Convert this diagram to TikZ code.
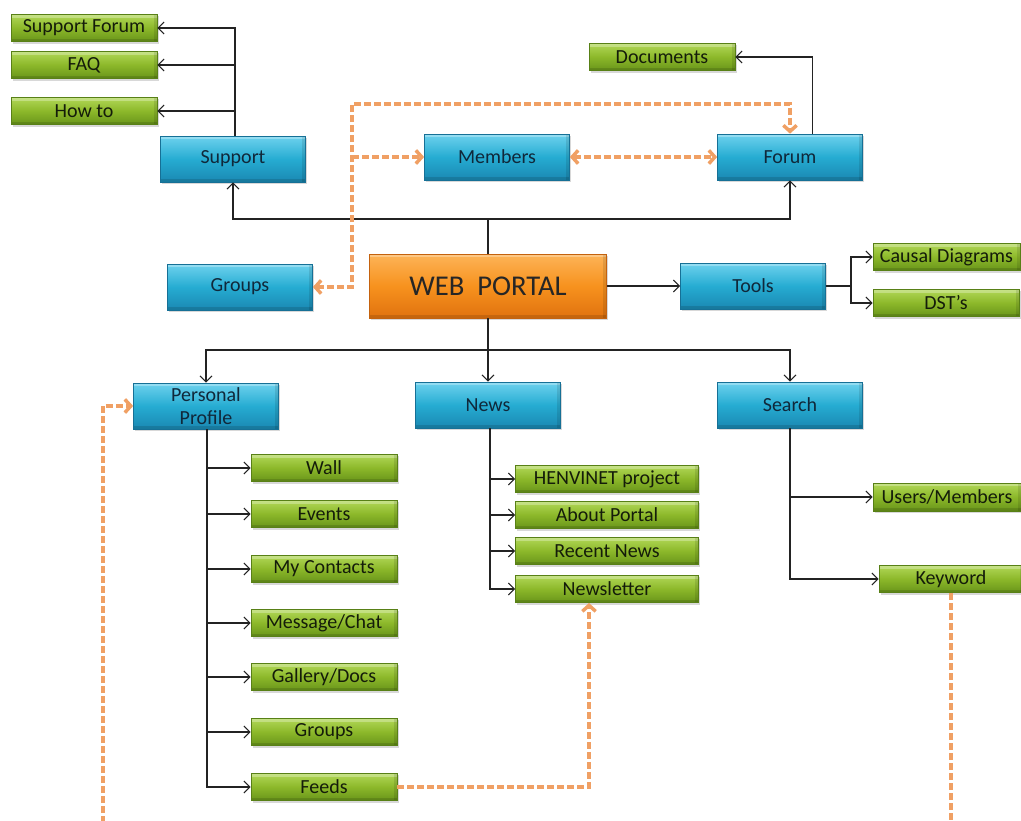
\documentclass[tikz,border=0pt]{standalone}
\usepackage{fontspec}
\setmainfont{Carlito}
\usetikzlibrary{arrows.meta,shadows,calc}
\definecolor{bluetop}{RGB}{110,210,238}
\definecolor{bluemid}{RGB}{38,172,210}
\definecolor{bluebot}{RGB}{26,136,178}
\definecolor{blueedge}{RGB}{22,112,150}
\definecolor{bluetext}{RGB}{16,40,58}
\definecolor{greentop}{RGB}{178,216,88}
\definecolor{greenmid}{RGB}{140,184,42}
\definecolor{greenbot}{RGB}{104,148,26}
\definecolor{greenedge}{RGB}{88,128,22}
\definecolor{greentext}{RGB}{20,28,10}
\definecolor{orangetop}{RGB}{253,180,88}
\definecolor{orangemid}{RGB}{247,146,30}
\definecolor{orangebot}{RGB}{224,114,14}
\definecolor{orangeedge}{RGB}{196,98,14}
\definecolor{linecol}{RGB}{35,35,35}
\definecolor{dorange}{RGB}{240,160,100}
\tikzset{
  basebox/.style={rectangle, inner sep=0pt, align=center,
    font=\fontsize{15}{17.5}\selectfont, line width=0.5pt,
    drop shadow={shadow xshift=1.2pt, shadow yshift=-1.5pt, opacity=0.3},
    path picture={
      \fill[white, opacity=0.28] (path picture bounding box.north west)
        rectangle ([yshift=-2.5pt]path picture bounding box.north east);
      \fill[black, opacity=0.12] (path picture bounding box.south west)
        rectangle ([yshift=2pt]path picture bounding box.south east);
      \fill[black, opacity=0.10] (path picture bounding box.north east)
        rectangle ([xshift=-2.5pt]path picture bounding box.south east);
    }},
  bluebox/.style={basebox, minimum width=108.75pt, minimum height=34.5pt,
    top color=bluetop, bottom color=bluebot, middle color=bluemid,
    draw=blueedge, text=bluetext},
  greenbox/.style={basebox, minimum width=109.5pt, minimum height=20.5pt,
    top color=greentop, bottom color=greenbot, middle color=greenmid,
    draw=greenedge, text=greentext},
  orangebox/.style={basebox, minimum width=177.75pt, minimum height=48pt,
    top color=orangetop, bottom color=orangebot, middle color=orangemid,
    draw=orangeedge, text=black!85, font=\fontsize{21.5}{24}\selectfont},
  plain/.style={draw=linecol, line width=0.8pt},
  conn/.style={plain, -{Straight Barb[length=4.5pt,width=9pt]}},
  odash/.style={draw=dorange, line width=2.6pt, dash pattern=on 5pt off 2.5pt, line join=miter},
  otip/.style={-{Straight Barb[length=4.5pt,width=10pt]}},
  otips/.style={{Straight Barb[length=4.5pt,width=10pt]}-{Straight Barb[length=4.5pt,width=10pt]}}
}
\begin{document}
\begin{tikzpicture}[x=0.75pt,y=-0.75pt]
\useasboundingbox (0,0) rectangle (1021,821);
\fill[white] (0,0) rectangle (1021,821);
\clip (0,0) rectangle (1021,821);

% nodes
\node[greenbox] (sf) at (84,28) {Support Forum};
\node[greenbox] (faq) at (84,65) {FAQ};
\node[greenbox] (howto) at (84,111) {How to};
\node[bluebox] (sup) at (233,159) {Support};
\node[greenbox] (doc) at (662,57) {Documents};
\node[bluebox] (mem) at (497,157) {Members};
\node[bluebox] (forum) at (790,157) {Forum};
\node[bluebox] (grp) at (240,287) {Groups};
\node[orangebox] (wp) at (488,286) {WEB\ \ PORTAL};
\node[bluebox] (tools) at (753,286) {Tools};
\node[greenbox, minimum width=110.25pt] (causal) at (946.5,257) {Causal Diagrams};
\node[greenbox] (dst) at (946,303) {DST’s};
\node[bluebox] (pp) at (206,406) {Personal\\Profile};
\node[bluebox] (news) at (488,405) {News};
\node[bluebox] (search) at (790,405) {Search};
\node[greenbox] (wall) at (324,468) {Wall};
\node[greenbox] (events) at (324,514) {Events};
\node[greenbox] (contacts) at (324,569) {My Contacts};
\node[greenbox] (msg) at (324,623) {Message/Chat};
\node[greenbox] (gallery) at (324,677) {Gallery/Docs};
\node[greenbox] (groups2) at (324,732) {Groups};
\node[greenbox] (feeds) at (324,787) {Feeds};
\node[greenbox, minimum width=137.25pt] (henv) at (607,479) {HENVINET project};
\node[greenbox, minimum width=137.25pt] (about) at (607,515) {About Portal};
\node[greenbox, minimum width=137.25pt] (recent) at (607,551) {Recent News};
\node[greenbox, minimum width=137.25pt] (newsl) at (607,589) {Newsletter};
\node[greenbox, minimum width=111pt, minimum height=21pt] (users) at (947,497) {Users/Members};
\node[greenbox, minimum width=108pt] (kw) at (951,579) {Keyword};

% junction coordinates
\coordinate (j1) at (488,219);
\coordinate (j2) at (851,286);
\coordinate (j3) at (488,350);
\coordinate (d1) at (352,104);
\coordinate (e1) at (951,834);
\coordinate (e2) at (103,834);

% black connectors
\draw[conn] ([xshift=1.5pt]sup.north) |- (sf.east);
\draw[conn] ([xshift=1.5pt]sup.north) |- (faq.east);
\draw[conn] ([xshift=1.5pt]sup.north) |- (howto.east);
\draw[plain] (wp.north) -- (j1);
\draw[conn] (j1) -| (sup.south);
\draw[conn] (j1) -| (forum.south);
\draw[conn] ([xshift=17pt]forum.north) |- (doc.east);
\draw[conn] (wp.east) -- (tools.west);
\draw[plain] (tools.east) -- (j2);
\draw[conn] (j2) |- (causal.west);
\draw[conn] (j2) |- (dst.west);
\draw[plain] (wp.south) -- (j3);
\draw[conn] (j3) -| (pp.north);
\draw[conn] (j3) -- (news.north);
\draw[conn] (j3) -| (search.north);
\foreach \n in {wall,events,contacts,msg,gallery,groups2,feeds}
  \draw[conn] ([xshift=0.75pt]pp.south) |- (\n.west);
\foreach \n in {henv,about,recent,newsl}
  \draw[conn] ([xshift=1.5pt]news.south) |- (\n.west);
\draw[conn] (search.south) |- (users.west);
\draw[conn] (search.south) |- (kw.west);

% orange dashed connectors
\draw[odash, otips] (grp.east) -| (d1) -| (forum.north);
\draw[odash, otip] (d1 |- mem.west) -- (mem.west);
\draw[odash, otips] (mem.east) -- (forum.west);
\draw[odash, otip] (feeds.east) -| ([xshift=-13.5pt]newsl.south);
\draw[odash, otip] (kw.south) -- (e1) -- (e2) |- (pp.west);
\end{tikzpicture}
\end{document}
